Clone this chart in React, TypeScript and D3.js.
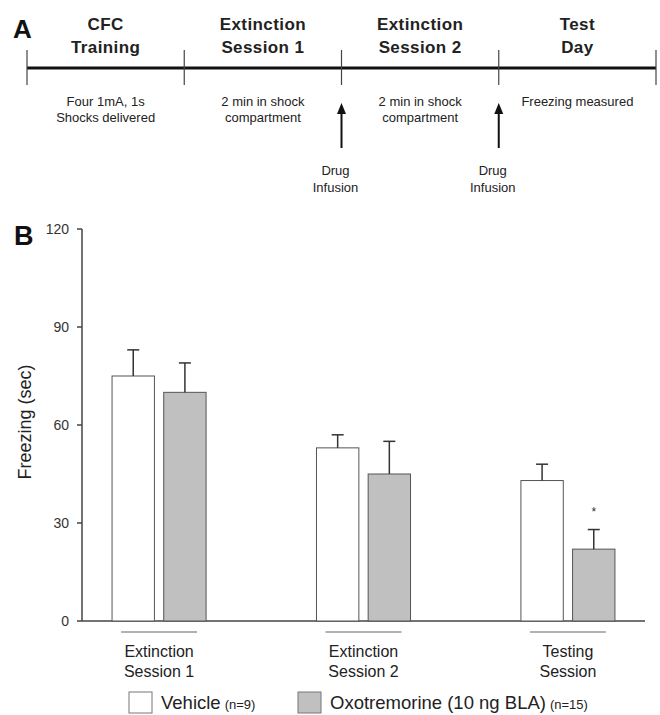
import React, { useEffect } from "react";
import * as d3 from "d3";

// panel A: timeline
const stageTitles = [["CFC", "Training"], ["Extinction", "Session 1"], ["Extinction", "Session 2"], ["Test", "Day"]];
const stageNotes = [["Four 1mA, 1s", "Shocks delivered"], ["2 min in shock", "compartment"], ["2 min in shock", "compartment"], ["Freezing measured"]];
const infusionAt = [2, 3]; // boundary index where the drug goes in
const infusionLabel = ["Drug", "Infusion"];

// panel B: freezing
const sessions = [["Extinction", "Session 1"], ["Extinction", "Session 2"], ["Testing", "Session"]];
const groups = ["Vehicle", "Oxotremorine (10 ng BLA)"];
const groupN = ["(n=9)", "(n=15)"];
const groupFill = ["#ffffff", "#c0c0c0"];
const vehicleMean = [75, 53, 43];
const vehicleSem = [8, 4, 5];
const oxoMean = [70, 45, 22];
const oxoSem = [9, 10, 6];
const yTicks = [0, 30, 60, 90, 120];
const starred = [[false, false], [false, false], [false, true]];

const FONT = "'Liberation Sans', Arial, sans-serif";

export default function App() {
  useEffect(() => {
    document.body.style.margin = "0";
  }, []);

  const width = 660;
  const height = 715;

  // timeline scale
  const tx = d3.scaleLinear().domain([0, stageTitles.length]).range([27, 656]);
  const lineY = 68;

  // chart scales
  const left = 82, right = 645, bottom = 621, top = 229;
  const y = d3.scaleLinear().domain([0, 120]).range([bottom, top]);
  const x0 = d3.scaleBand<number>()
    .domain(sessions.map((_, i) => i))
    .range([left, right])
    .paddingInner(0.54)
    .paddingOuter(0.147);
  const x1 = d3.scaleBand<number>()
    .domain([0, 1])
    .range([0, x0.bandwidth()])
    .paddingInner(0.18);

  const means = [vehicleMean, oxoMean];
  const sems = [vehicleSem, oxoSem];

  return (
    <svg width={width} height={height} style={{ display: "block", fontFamily: FONT }}>
      <rect width={width} height={height} fill="#fff" />

      {/* ---- A ---- */}
      <text x={13} y={38} fontSize={26} fontWeight="bold" fill="#111">A</text>
      <line x1={tx(0)} x2={tx(4)} y1={lineY} y2={lineY} stroke="#111" strokeWidth={3} />
      {d3.range(stageTitles.length + 1).map(i => (
        <line key={i} x1={tx(i)} x2={tx(i)} y1={50} y2={85} stroke="#444" strokeWidth={1.2} />
      ))}
      {stageTitles.map((t, i) => {
        const cx = (tx(i) + tx(i + 1)) / 2;
        return (
          <g key={i}>
            {t.map((s, j) => (
              <text key={j} x={cx} y={30 + j * 23} textAnchor="middle" fontSize={17}
                fontWeight="bold" fill="#222" letterSpacing={0.4}>{s}</text>
            ))}
            {stageNotes[i].map((s, j) => (
              <text key={"n" + j} x={cx} y={106 + j * 16} textAnchor="middle" fontSize={13} fill="#222">{s}</text>
            ))}
          </g>
        );
      })}
      {infusionAt.map(b => {
        const ax = tx(b);
        return (
          <g key={b}>
            <line x1={ax} x2={ax} y1={148} y2={112} stroke="#111" strokeWidth={2} />
            <path d={`M${ax},103 L${ax - 4.5},114 L${ax + 4.5},114 Z`} fill="#111" />
            {infusionLabel.map((s, j) => (
              <text key={j} x={ax - 6} y={175 + j * 17} textAnchor="middle" fontSize={13} fill="#222">{s}</text>
            ))}
          </g>
        );
      })}

      {/* ---- B ---- */}
      <text x={14} y={245} fontSize={27} fontWeight="bold" fill="#111">B</text>
      <text transform={`translate(31,${y(60) - 3}) rotate(-90)`} textAnchor="middle"
        fontSize={18} fill="#222">Freezing (sec)</text>

      {/* y axis */}
      <line x1={left} x2={left} y1={y(120)} y2={bottom} stroke="#444" strokeWidth={1.5} />
      {yTicks.map(t => (
        <g key={t}>
          <line x1={left - 5} x2={left} y1={y(t)} y2={y(t)} stroke="#444" strokeWidth={1.5} />
          <text x={left - 13} y={y(t) + 5} textAnchor="end" fontSize={14} fill="#333">{t}</text>
        </g>
      ))}
      <line x1={left} x2={right} y1={bottom} y2={bottom} stroke="#444" strokeWidth={1.5} />

      {/* bars */}
      {sessions.map((_, si) => (
        <g key={si} transform={`translate(${x0(si)},0)`}>
          {groups.map((_, gi) => {
            const bx = x1(gi)!;
            const bw = x1.bandwidth();
            const v = means[gi][si];
            const e = sems[gi][si];
            const cx = bx + bw / 2;
            return (
              <g key={gi}>
                <rect x={bx} y={y(v)} width={bw} height={bottom - y(v)} fill={groupFill[gi]}
                  stroke="#555" strokeWidth={1} />
                <line x1={cx} x2={cx} y1={y(v)} y2={y(v + e)} stroke="#333" strokeWidth={1.5} />
                <line x1={cx - 6} x2={cx + 6} y1={y(v + e)} y2={y(v + e)} stroke="#333" strokeWidth={1.5} />
                {starred[si][gi] && (
                  <text x={cx} y={y(v + e) - 14} textAnchor="middle" fontSize={12} fill="#333">*</text>
                )}
              </g>
            );
          })}
        </g>
      ))}

      {/* category underlines and labels */}
      {sessions.map((s, si) => {
        const cx = x0(si)! + x0.bandwidth() / 2;
        return (
          <g key={si}>
            <line x1={cx - 38} x2={cx + 38} y1={632} y2={632} stroke="#999" strokeWidth={1.5} />
            {s.map((l, j) => (
              <text key={j} x={cx} y={657 + j * 20} textAnchor="middle" fontSize={16} fill="#222">{l}</text>
            ))}
          </g>
        );
      })}

      {/* legend */}
      {groups.map((g, gi) => {
        const lx = gi === 0 ? 129 : 298;
        return (
          <g key={gi}>
            <rect x={lx} y={692} width={23} height={21} fill={groupFill[gi]} stroke="#777" strokeWidth={1} />
            <text x={lx + 32} y={709} fontSize={18.5} fill="#222">
              {g}
              <tspan fontSize={13} dx={4}>{groupN[gi]}</tspan>
            </text>
          </g>
        );
      })}
    </svg>
  );
}
